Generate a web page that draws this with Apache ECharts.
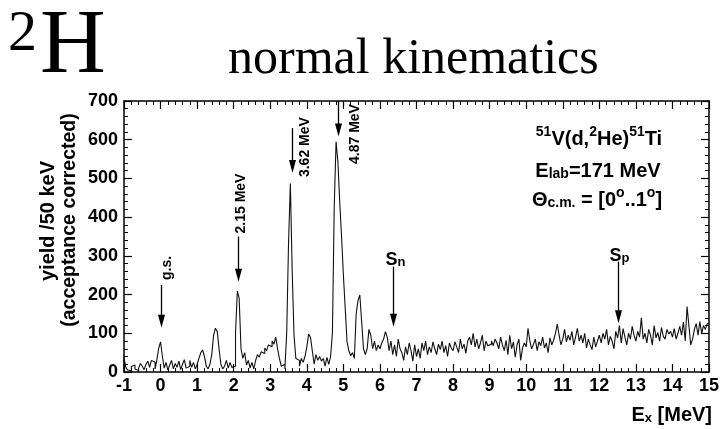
<!DOCTYPE html>
<html>
<head>
<meta charset="utf-8">
<script src="https://cdn.jsdelivr.net/npm/echarts@6/dist/echarts.min.js"></script>
<style>
html,body{margin:0;padding:0;background:#fff}
#chart{width:725px;height:429px}
</style>
</head>
<body>
<div id="chart"></div>
<script>
// 51V(d,2He)51Ti excitation-energy spectrum, 50 keV bins starting at -1 MeV
const binStart = -1;
const binWidth = 0.05;
const yields = [
  38, 12, 5, 3, 14, 18, 8, 4, 10, 22, 15, 6, 20, 28, 12, 30, 25, 8, 32, 62,          // -1 .. 0
  78, 40, 10, 25, 5, 18, 30, 8, 22, 12, 28, 6, 20, 32, 10, 15, 30, 12, 25, 8,         // 0 .. 1
  20, 35, 50, 57, 40, 15, 8, 20, 45, 95, 113, 105, 60, 20, 8, 15, 30, 10, 25, 12,     // 1 .. 2
  15, 100, 209, 190, 60, 35, 50, 18, 30, 10, 25, 8, 30, 45, 38, 52, 48, 62, 55, 70,   // 2 .. 3
  65, 80, 72, 90, 60, 35, 15, 20, 8, 100, 333, 487, 260, 95, 35, 30, 15, 35, 25, 40,  // 3 .. 4
  65, 98, 90, 55, 20, 45, 30, 40, 28, 35, 15, 38, 20, 40, 100, 427, 595, 543, 440, 350, // 4 .. 5
  251, 165, 78, 55, 42, 50, 35, 150, 185, 199, 130, 60, 45, 60, 110, 95, 60, 80, 55, 70, // 5 .. 6
  60, 75, 85, 104, 90, 55, 80, 45, 70, 40, 85, 60, 50, 30, 65, 45, 75, 55, 28, 70,    // 6 .. 7
  40, 60, 35, 75, 55, 80, 45, 65, 50, 78, 60, 45, 72, 58, 80, 50, 68, 40, 75, 62,     // 7 .. 8
  55, 78, 65, 50, 85, 60, 72, 48, 80, 90, 70, 100, 65, 85, 60, 75, 95, 55, 80, 68,    // 8 .. 9
  72, 80, 68, 85, 75, 60, 90, 70, 55, 82, 45, 95, 60, 78, 38, 70, 85, 30, 62, 75,     // 9 .. 10
  65, 113, 80, 60, 72, 85, 55, 78, 68, 90, 62, 75, 50, 88, 70, 82, 100, 124, 95, 70,  // 10 .. 11
  85, 110, 78, 95, 82, 105, 70, 90, 113, 80, 95, 75, 100, 62, 85, 70, 58, 90, 65, 80, // 11 .. 12
  95, 75, 100, 85, 110, 70, 92, 80, 60, 105, 88, 120, 75, 112, 90, 70, 100, 85, 118, 95, // 12 .. 13
  80, 105, 90, 140, 85, 100, 75, 110, 95, 70, 120, 88, 102, 80, 115, 92, 85, 110, 98, 105, // 13 .. 14
  90, 112, 85, 100, 118, 95, 129, 80, 169, 120, 70, 85, 110, 125, 95, 130, 100, 120, 110, 125 // 14 .. 15
];

const xTickLabels = ['-1','0','1','2','3','4','5','6','7','8','9','10','11','12','13','14','15'];
const yTickLabels = ['0','100','200','300','400','500','600','700'];

// level markers: energy, arrow top, arrow tip (in yield units), label
const markerE     = [0.01, 2.13, 3.59, 4.86, 6.37, 12.50];
const markerTop   = [225, 350, 630, 700, 272, 285];
const markerTip   = [114, 233, 514, 608, 117, 126];
const markerLabel = ['g.s.', '2.15 MeV', '3.62 MeV', '4.87 MeV', 'S_n', 'S_p'];

const xMin = -1, xMax = 15, yMin = 0, yMax = 700;

// histogram outline: each bin contributes its left and right edge at its height
const histData = [[binStart, 0]];
yields.forEach(function (v, i) {
  const lo = binStart + i * binWidth;
  histData.push([lo, v]);
  histData.push([lo + binWidth, v]);
});

const SANS = '"Liberation Sans", Arial, Helvetica, sans-serif';
const SERIF = '"Liberation Serif", "Times New Roman", serif';

function frameAxis(kind, position, showLabels) {
  const isX = kind === 'x';
  return {
    type: 'value',
    position: position,
    min: isX ? xMin : yMin,
    max: isX ? xMax : yMax,
    interval: isX ? 1 : 100,
    axisLine: { show: true, onZero: false, lineStyle: { color: '#000', width: 1.5 } },
    axisTick: { show: true, inside: true, length: 8, lineStyle: { color: '#000', width: 1.2 } },
    minorTick: { show: true, splitNumber: 5, length: 4, lineStyle: { color: '#000', width: 1 } },
    splitLine: { show: false },
    minorSplitLine: { show: false },
    axisLabel: {
      show: showLabels,
      color: '#000',
      fontFamily: SANS,
      fontWeight: 'bold',
      fontSize: 18,
      margin: isX ? 5 : 6,
      formatter: function (v) {
        const labels = isX ? xTickLabels : yTickLabels;
        const idx = isX ? Math.round(v - xMin) : Math.round((v - yMin) / 100);
        return labels[idx] !== undefined ? labels[idx] : '';
      }
    }
  };
}

const chart = echarts.init(document.getElementById('chart'), null, { renderer: 'canvas' });

const option = {
  animation: false,
  backgroundColor: '#fff',
  grid: { left: 124, right: 16, top: 101, bottom: 57, containLabel: false },
  xAxis: [frameAxis('x', 'bottom', true), frameAxis('x', 'top', false)],
  yAxis: [frameAxis('y', 'left', true), frameAxis('y', 'right', false)],
  series: [{
    type: 'line',
    xAxisIndex: 0,
    yAxisIndex: 0,
    data: histData,
    symbol: 'none',
    showSymbol: false,
    lineStyle: { color: '#111', width: 1.1 },
    clip: true,
    z: 3
  }]
};
chart.setOption(option);

const richInfo = {
  b: { fontFamily: SANS, fontWeight: 'bold', fontSize: 20, color: '#000', lineHeight: 24, verticalAlign: 'bottom' },
  sup: { fontFamily: SANS, fontWeight: 'bold', fontSize: 14, color: '#000', lineHeight: 14, padding: [0, 0, 10, 0], verticalAlign: 'bottom' },
  sub: { fontFamily: SANS, fontWeight: 'bold', fontSize: 14, color: '#000', lineHeight: 14, padding: [10, 0, 0, 0], verticalAlign: 'bottom' }
};

const graphics = [
  // big title
  { type: 'text', left: 8, top: 6, style: { text: '2', font: '58px ' + SERIF, fill: '#000' } },
  { type: 'text', left: 40, top: 3, style: { text: 'H', font: '91px ' + SERIF, fill: '#000' } },
  { type: 'text', left: 228, top: 35, style: { text: 'normal kinematics', font: '50px ' + SERIF, fill: '#000' } },
  // y axis title
  { type: 'text', x: 48, y: 221, rotation: Math.PI / 2,
    style: { text: 'yield /50 keV', font: 'bold 20px ' + SANS, fill: '#000', align: 'center', verticalAlign: 'middle' } },
  { type: 'text', x: 70, y: 220, rotation: Math.PI / 2,
    style: { text: '(acceptance corrected)', font: 'bold 19.5px ' + SANS, fill: '#000', align: 'center', verticalAlign: 'middle' } },
  // x axis title
  { type: 'text', x: 712, y: 413,
    style: { text: '{b|E}{sub|x}{b| [MeV]}', rich: {
      b: { fontFamily: SANS, fontWeight: 'bold', fontSize: 20, color: '#000', lineHeight: 24, verticalAlign: 'bottom' },
      sub: { fontFamily: SANS, fontWeight: 'bold', fontSize: 13, color: '#000', lineHeight: 13, padding: [10, 0, 0, 0], verticalAlign: 'bottom' }
    }, align: 'right', verticalAlign: 'middle' } },
  // reaction info
  { type: 'text', x: 599, y: 137,
    style: { text: '{sup|51}{b|V(d,}{sup|2}{b|He)}{sup|51}{b|Ti}', rich: richInfo, align: 'center', verticalAlign: 'middle' } },
  { type: 'text', x: 598, y: 169,
    style: { text: '{b|E}{sub|lab}{b|=171 MeV}', rich: richInfo, align: 'center', verticalAlign: 'middle' } },
  { type: 'text', x: 597, y: 198,
    style: { text: '{b|\u0398}{sub|c.m.}{b| = [0}{sup|o}{b|..1}{sup|o}{b|]}', rich: richInfo, align: 'center', verticalAlign: 'middle' } }
];

// arrows and their labels placed through the axis scales; label offsets are from the arrow top
const labelOffsets = [
  { dx: 6, dy: -17, rot: true },
  { dx: 3, dy: -33, rot: true },
  { dx: 13, dy: 19, rot: true },
  { dx: 17, dy: 33, rot: true },
  { dx: 2, dy: -9, rot: false },
  { dx: 1, dy: -8, rot: false }
];
markerE.forEach(function (e, i) {
  const p0 = chart.convertToPixel({ xAxisIndex: 0, yAxisIndex: 0 }, [e, markerTop[i]]);
  const p1 = chart.convertToPixel({ xAxisIndex: 0, yAxisIndex: 0 }, [e, markerTip[i]]);
  const x = Math.round(p0[0]) + 0.5;
  const headLen = 13, headHalf = 3.5;
  graphics.push({ type: 'line', shape: { x1: x, y1: p0[1], x2: x, y2: p1[1] - headLen + 2 },
    style: { stroke: '#000', lineWidth: 1.3 }, z: 10 });
  graphics.push({ type: 'polygon', shape: { points: [[x - headHalf, p1[1] - headLen], [x + headHalf, p1[1] - headLen], [x, p1[1]]] },
    style: { fill: '#000' }, z: 10 });
  const off = labelOffsets[i];
  const lab = markerLabel[i];
  if (off.rot) {
    graphics.push({ type: 'text', x: x + off.dx, y: p0[1] + off.dy, rotation: Math.PI / 2, z: 10,
      style: { text: lab, font: 'bold 14px ' + SANS, fill: '#000', align: 'center', verticalAlign: 'middle' } });
  } else {
    const parts = lab.split('_');
    graphics.push({ type: 'text', x: x + off.dx, y: p0[1] + off.dy, z: 10,
      style: { text: '{b|' + parts[0] + '}{sub|' + parts[1] + '}', rich: {
        b: { fontFamily: SANS, fontWeight: 'bold', fontSize: 18, color: '#000', lineHeight: 22, verticalAlign: 'bottom' },
        sub: { fontFamily: SANS, fontWeight: 'bold', fontSize: 13, color: '#000', lineHeight: 13, padding: [9, 0, 0, 0], verticalAlign: 'bottom' }
      }, align: 'center', verticalAlign: 'middle' } });
  }
});

chart.setOption({ graphic: graphics });
</script>
</body>
</html>
